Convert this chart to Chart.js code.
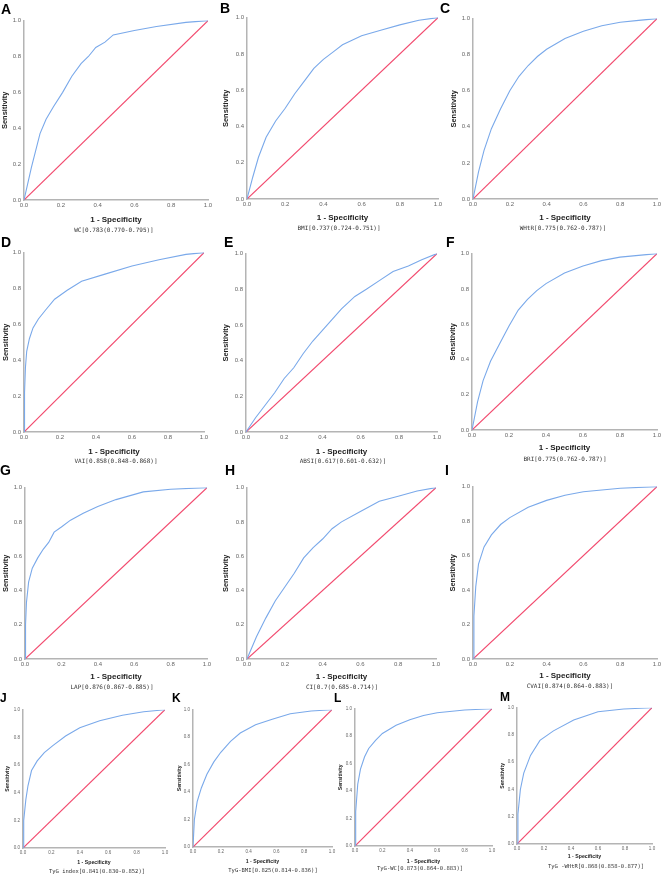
<!DOCTYPE html>
<html>
<head>
<meta charset="utf-8">
<script src="https://cdn.jsdelivr.net/npm/chart.js@4"></script>
<style>
  body { margin: 0; background: #fff; }
  #fig { position: relative; width: 661px; height: 874px; overflow: hidden; font-family: "Liberation Sans", Arial, sans-serif; }
  canvas { position: absolute; }
  .lbl { position: absolute; font-weight: bold; line-height: 1; color: #000; }
  .cap { position: absolute; font-family: "DejaVu Sans Mono", monospace; color: #333; white-space: nowrap; transform: translate(-50%, -50%); line-height: 1; filter: grayscale(100%); }
</style>
</head>
<body>
<div id="fig"></div>
<script>
// ROC points (1 - specificity, sensitivity)
const fprA = [0, 0.02, 0.04, 0.087, 0.12, 0.16, 0.21, 0.26, 0.31, 0.35, 0.39, 0.44, 0.485, 0.6, 0.72, 0.88, 1];
const tprA = [0, 0.09, 0.18, 0.37, 0.45, 0.52, 0.6, 0.69, 0.76, 0.8, 0.85, 0.88, 0.92, 0.945, 0.967, 0.99, 1];
const fprB = [0, 0.03, 0.06, 0.1, 0.15, 0.2, 0.25, 0.3, 0.35, 0.4, 0.45, 0.5, 0.6, 0.7, 0.8, 0.9, 1];
const tprB = [0, 0.12, 0.23, 0.34, 0.43, 0.5, 0.58, 0.65, 0.72, 0.77, 0.81, 0.85, 0.9, 0.93, 0.96, 0.985, 1];
const fprC = [0, 0.03, 0.06, 0.1, 0.15, 0.2, 0.25, 0.3, 0.35, 0.4, 0.5, 0.6, 0.7, 0.8, 0.9, 1];
const tprC = [0, 0.15, 0.27, 0.39, 0.5, 0.6, 0.68, 0.74, 0.79, 0.83, 0.89, 0.93, 0.96, 0.98, 0.99, 1];
const fprD = [0, 0.003, 0.008, 0.015, 0.03, 0.05, 0.08, 0.12, 0.17, 0.24, 0.32, 0.45, 0.6, 0.75, 0.9, 1];
const tprD = [0, 0.22, 0.36, 0.45, 0.52, 0.58, 0.63, 0.68, 0.74, 0.79, 0.84, 0.88, 0.925, 0.96, 0.99, 1];
const fprE = [0, 0.05, 0.1, 0.15, 0.2, 0.25, 0.3, 0.35, 0.4, 0.45, 0.5, 0.57, 0.63, 0.7, 0.77, 0.85, 0.92, 1];
const tprE = [0, 0.08, 0.15, 0.22, 0.3, 0.36, 0.44, 0.51, 0.57, 0.63, 0.69, 0.76, 0.8, 0.85, 0.9, 0.93, 0.965, 1];
const fprF = [0, 0.03, 0.06, 0.1, 0.15, 0.2, 0.25, 0.3, 0.35, 0.4, 0.5, 0.6, 0.7, 0.8, 0.9, 1];
const tprF = [0, 0.16, 0.28, 0.39, 0.49, 0.59, 0.68, 0.74, 0.79, 0.83, 0.89, 0.93, 0.96, 0.98, 0.99, 1];
const fprG = [0, 0.003, 0.008, 0.02, 0.04, 0.07, 0.1, 0.13, 0.16, 0.2, 0.25, 0.32, 0.4, 0.5, 0.65, 0.8, 1];
const tprG = [0, 0.2, 0.33, 0.45, 0.53, 0.59, 0.64, 0.68, 0.74, 0.77, 0.81, 0.85, 0.89, 0.93, 0.975, 0.99, 1];
const fprH = [0, 0.05, 0.1, 0.15, 0.2, 0.25, 0.3, 0.35, 0.4, 0.45, 0.5, 0.6, 0.7, 0.8, 0.9, 1];
const tprH = [0, 0.13, 0.24, 0.34, 0.42, 0.5, 0.59, 0.65, 0.7, 0.76, 0.8, 0.86, 0.92, 0.95, 0.98, 1];
const fprI = [0, 0.005, 0.015, 0.03, 0.06, 0.1, 0.15, 0.2, 0.3, 0.4, 0.5, 0.6, 0.8, 1];
const tprI = [0, 0.25, 0.42, 0.55, 0.65, 0.72, 0.78, 0.82, 0.88, 0.92, 0.95, 0.97, 0.99, 1];
const fprJ = [0, 0.005, 0.02, 0.035, 0.06, 0.1, 0.15, 0.21, 0.3, 0.4, 0.54, 0.7, 0.85, 1];
const tprJ = [0, 0.2, 0.35, 0.45, 0.56, 0.63, 0.69, 0.74, 0.81, 0.87, 0.92, 0.96, 0.985, 1];
const fprK = [0, 0.01, 0.03, 0.06, 0.1, 0.15, 0.2, 0.27, 0.34, 0.45, 0.57, 0.7, 0.85, 1];
const tprK = [0, 0.2, 0.33, 0.43, 0.53, 0.62, 0.69, 0.77, 0.83, 0.89, 0.93, 0.97, 0.99, 1];
const fprL = [0, 0.005, 0.02, 0.04, 0.07, 0.1, 0.15, 0.2, 0.3, 0.4, 0.5, 0.6, 0.8, 1];
const tprL = [0, 0.25, 0.45, 0.56, 0.65, 0.71, 0.77, 0.82, 0.88, 0.92, 0.95, 0.97, 0.99, 1];
const fprM = [0, 0.007, 0.025, 0.05, 0.1, 0.17, 0.27, 0.42, 0.6, 0.79, 1];
const tprM = [0, 0.22, 0.4, 0.52, 0.65, 0.76, 0.83, 0.91, 0.97, 0.99, 1];

const refX = [0, 1];
const refY = [0, 1];
const xTicks = [0, 0.2, 0.4, 0.6, 0.8, 1];
const yTicks = [0, 0.2, 0.4, 0.6, 0.8, 1];

const panelNames = ["A", "B", "C", "D", "E", "F", "G", "H", "I", "J", "K", "L", "M"];
const captions = [
  "WC[0.783(0.770-0.795)]", "BMI[0.737(0.724-0.751)]", "WHtR[0.775(0.762-0.787)]",
  "VAI[0.858(0.848-0.868)]", "ABSI[0.617(0.601-0.632)]", "BRI[0.775(0.762-0.787)]",
  "LAP[0.876(0.867-0.885)]", "CI[0.7(0.685-0.714)]", "CVAI[0.874(0.864-0.883)]",
  "TyG index[0.841(0.830-0.852)]", "TyG-BMI[0.825(0.814-0.836)]", "TyG-WC[0.873(0.864-0.883)]",
  "TyG -WHtR[0.868(0.858-0.877)]"
];
const fprs = [fprA, fprB, fprC, fprD, fprE, fprF, fprG, fprH, fprI, fprJ, fprK, fprL, fprM];
const tprs = [tprA, tprB, tprC, tprD, tprE, tprF, tprG, tprH, tprI, tprJ, tprK, tprL, tprM];

// layout: plot box x0,x1,top,bottom; y title centre x; x title centre y; label pos; caption centre
const layout = [
  { x0: 24, x1: 208, t: 19, b: 200, sx: 4, sy: 220, lx: 1, ly: 2, cx: 114, cy: 230 },
  { x0: 247, x1: 438, t: 16, b: 199, sx: 225, sy: 218, lx: 220, ly: 1, cx: 339, cy: 228 },
  { x0: 473, x1: 657, t: 17, b: 199, sx: 453, sy: 218, lx: 440, ly: 1, cx: 563, cy: 228 },
  { x0: 24, x1: 204, t: 251, b: 432, sx: 5, sy: 452, lx: 1, ly: 235, cx: 116, cy: 461 },
  { x0: 246, x1: 437, t: 252, b: 432, sx: 225, sy: 452, lx: 224, ly: 235, cx: 343, cy: 461 },
  { x0: 472, x1: 657, t: 252, b: 430, sx: 452, sy: 448, lx: 446, ly: 235, cx: 565, cy: 459 },
  { x0: 25, x1: 207, t: 486, b: 659, sx: 5, sy: 677, lx: 0, ly: 463, cx: 112, cy: 687 },
  { x0: 247, x1: 436, t: 486, b: 659, sx: 225, sy: 677, lx: 225, ly: 463, cx: 342, cy: 687 },
  { x0: 473, x1: 657, t: 485, b: 659, sx: 452, sy: 676, lx: 445, ly: 463, cx: 570, cy: 686 },
  { x0: 23, x1: 165, t: 709, b: 848, sx: 7, sy: 863, lx: 0, ly: 692, cx: 97, cy: 872, small: true },
  { x0: 193, x1: 332, t: 709, b: 847, sx: 179, sy: 862, lx: 172, ly: 692, cx: 273, cy: 871, small: true },
  { x0: 355, x1: 492, t: 708, b: 846, sx: 340, sy: 862, lx: 334, ly: 692, cx: 420, cy: 869, small: true },
  { x0: 517, x1: 652, t: 707, b: 844, sx: 502, sy: 857, lx: 500, ly: 691, cx: 596, cy: 867, small: true }
];

const fig = document.getElementById("fig");

function makePanel(i) {
  const L = layout[i];
  const titleSize = L.small ? 5.2 : 8;
  const sensSize = L.small ? 5.2 : 7.5;
  const tickSize = L.small ? 4.5 : 6;
  const lh = 1.2;
  const padTop = 5, padRight = 8;

  const left = Math.round(L.sx - sensSize * lh / 2);
  const yw = L.x0 - left;
  const top = L.t - padTop;
  const bottom = Math.round(L.sy + titleSize * lh / 2);
  const xh = bottom - L.b;
  const w = L.x1 - L.x0 + yw + padRight;
  const h = bottom - top;

  const canvas = document.createElement("canvas");
  canvas.style.left = left + "px";
  canvas.style.top = top + "px";
  canvas.style.width = w + "px";
  canvas.style.height = h + "px";
  canvas.width = w;
  canvas.height = h;
  fig.appendChild(canvas);

  const curve = fprs[i].map((x, k) => ({ x: x, y: tprs[i][k] }));
  const diag = refX.map((x, k) => ({ x: x, y: refY[k] }));

  new Chart(canvas.getContext("2d"), {
    type: "line",
    data: {
      datasets: [
        { data: curve, borderColor: "#7aa9ea", borderWidth: 1.1, pointRadius: 0, tension: 0 },
        { data: diag, borderColor: "#f24a6e", borderWidth: 1.2, pointRadius: 0, tension: 0 }
      ]
    },
    options: {
      responsive: false,
      animation: false,
      devicePixelRatio: 1,
      layout: { padding: { top: padTop, right: padRight, left: 0, bottom: 0 } },
      plugins: { legend: { display: false }, tooltip: { enabled: false } },
      scales: {
        x: {
          type: "linear", min: 0, max: 1,
          afterBuildTicks: (s) => { s.ticks = xTicks.map((v) => ({ value: v })); },
          afterFit: (s) => { s.height = xh; },
          grid: { display: false, drawTicks: false },
          border: { color: "#b4b4b4", width: 1.5 },
          ticks: { padding: 2, color: "#666", font: { size: tickSize, family: "Liberation Sans" }, maxRotation: 0, callback: (v) => Number(v).toFixed(1) },
          title: { display: true, text: "1 - Specificity", color: "#222", padding: 0, font: { size: titleSize, weight: "bold", family: "Liberation Sans" } }
        },
        y: {
          type: "linear", min: 0, max: 1,
          afterBuildTicks: (s) => { s.ticks = yTicks.map((v) => ({ value: v })); },
          afterFit: (s) => { s.width = yw; },
          grid: { display: false, drawTicks: false },
          border: { color: "#b4b4b4", width: 1.5 },
          ticks: { padding: 3, color: "#666", font: { size: tickSize, family: "Liberation Sans" }, callback: (v) => Number(v).toFixed(1) },
          title: { display: true, text: "Sensitivity", color: "#222", padding: 0, font: { size: sensSize, weight: "bold", family: "Liberation Sans" } }
        }
      }
    }
  });

  const lbl = document.createElement("div");
  lbl.className = "lbl";
  lbl.textContent = panelNames[i];
  lbl.style.left = L.lx + "px";
  lbl.style.top = L.ly + "px";
  lbl.style.fontSize = (L.small ? 12 : 14) + "px";
  fig.appendChild(lbl);

  const cap = document.createElement("div");
  cap.className = "cap";
  cap.textContent = captions[i];
  cap.style.left = L.cx + "px";
  cap.style.top = L.cy + "px";
  cap.style.fontSize = (L.small ? 5.5 : 6) + "px";
  fig.appendChild(cap);
}

for (let i = 0; i < panelNames.length; i++) {
  makePanel(i);
}
</script>
</body>
</html>
